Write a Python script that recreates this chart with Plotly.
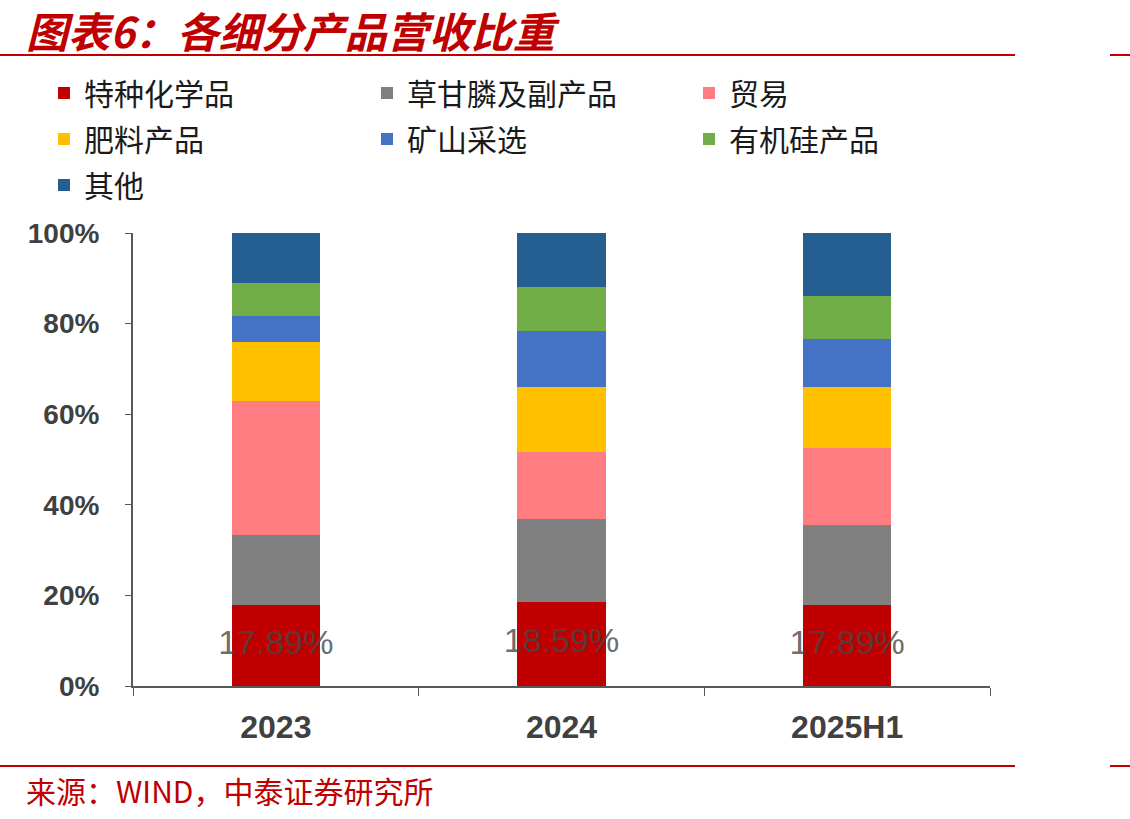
import plotly.graph_objects as go

categories = ["2023", "2024", "2025H1"]
series_names = ["特种化学品", "草甘膦及副产品", "贸易", "肥料产品", "矿山采选", "有机硅产品", "其他"]
special_chem = [17.89, 18.59, 17.89]
glyphosate = [15.4, 18.2, 17.6]
trade = [29.6, 14.9, 17.1]
fertilizer = [13.0, 14.3, 13.4]
mining = [5.7, 12.4, 10.6]
silicone = [7.3, 9.7, 9.4]
other = [11.11, 11.91, 14.01]
label_texts = ["17.89%", "18.59%", "17.89%"]
yticks = [0, 20, 40, 60, 80, 100]
ytick_labels = ["0%", "20%", "40%", "60%", "80%", "100%"]

series_values = [special_chem, glyphosate, trade, fertilizer, mining, silicone, other]
colors = ["#C00000", "#808080", "#FF7C80", "#FFC000", "#4472C4", "#70AD47", "#255E91"]
# legend column for each series (reference legend is laid out in 3 columns)
legend_cols = ["legend", "legend2", "legend3", "legend", "legend2", "legend3", "legend"]

W, H = 1130, 819
L, R, T, B = 133, 990, 233, 686  # plot area in px
pw, ph = R - L, B - T

def px_x(x):
    return (x - L) / pw

def px_y(y):
    return (B - y) / ph

CJK = "Noto Sans CJK SC"
RED = "#C00000"

fig = go.Figure()
for i, (name, vals, col, lg) in enumerate(zip(series_names, series_values, colors, legend_cols)):
    fig.add_trace(go.Bar(x=categories, y=vals, name=name, legend=lg, legendgroup=f"g{i}",
                         marker=dict(color=col, line=dict(width=0))))

# data labels for first series, centred in the segment
fig.add_trace(go.Scatter(
    x=categories, y=[v / 2 for v in special_chem], text=label_texts, mode="text",
    textposition="middle center",
    textfont=dict(family="Liberation Sans", size=34, color="rgba(70,70,70,0.8)"),
    showlegend=False, hoverinfo="skip"))

shapes = []
for yy in (55, 766):
    shapes.append(dict(type="line", xref="paper", yref="paper", x0=px_x(0), x1=px_x(1015),
                       y0=px_y(yy), y1=px_y(yy), line=dict(color=RED, width=2)))
    shapes.append(dict(type="line", xref="paper", yref="paper", x0=px_x(1110), x1=px_x(1130),
                       y0=px_y(yy), y1=px_y(yy), line=dict(color=RED, width=2)))

def legend_at(xpx):
    return dict(orientation="v", xref="container", yref="container", x=xpx / W, xanchor="left",
                y=1 - 67 / H, yanchor="top", font=dict(family=CJK, size=30, color="#1a1a1a"),
                itemwidth=30, traceorder="grouped", tracegroupgap=4, bgcolor="rgba(0,0,0,0)")

fig.update_layout(
    width=W, height=H,
    margin=dict(l=L, r=W - R, t=T, b=H - B, autoexpand=False),
    paper_bgcolor="white", plot_bgcolor="white",
    barmode="stack", bargap=0.69,
    legend=legend_at(44),
    legend2=legend_at(367),
    legend3=legend_at(689),
    xaxis=dict(showline=True, linecolor="#595959", linewidth=2, ticks="outside", ticklen=8,
               tickcolor="#595959", tickson="boundaries", showgrid=False,
               tickfont=dict(family="Liberation Sans", size=32, color="#404040", weight="bold"),
               ticklabelstandoff=12),
    yaxis=dict(range=[0, 100], tickvals=yticks, ticktext=ytick_labels, showline=True,
               linecolor="#595959", linewidth=2, ticks="outside", ticklen=6, tickcolor="#595959",
               showgrid=False, zeroline=False,
               tickfont=dict(family="Liberation Sans", size=28, color="#404040", weight="bold"),
               ticklabelstandoff=20),
    shapes=shapes,
    annotations=[
        dict(text="<b>图表6：各细分产品营收比重</b>", xref="paper", yref="paper",
             x=px_x(24), y=px_y(30), xanchor="left", yanchor="middle", showarrow=False,
             font=dict(family=CJK, size=42, color=RED, style="italic")),
        dict(text="来源：WIND，中泰证券研究所", xref="paper", yref="paper",
             x=px_x(24), y=px_y(790), xanchor="left", yanchor="middle", showarrow=False,
             font=dict(family=CJK, size=30, color=RED)),
    ],
    showlegend=True,
)

fig.write_html("out.html")
